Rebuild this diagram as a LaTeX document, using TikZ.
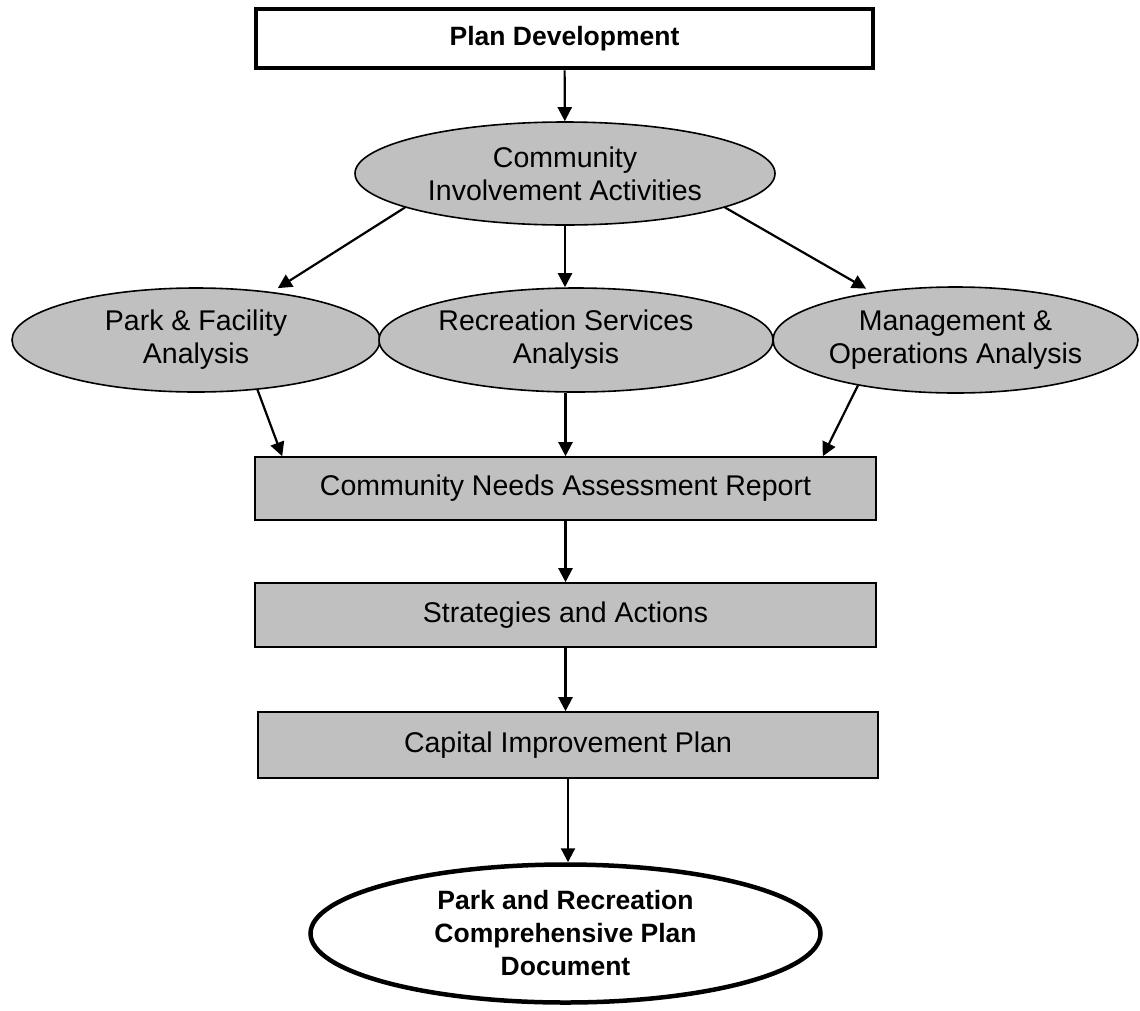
\documentclass[tikz,border=0pt]{standalone}
\usepackage{fontspec}
\setmainfont{Liberation Sans}
\usepackage{tikz}
\usetikzlibrary{fit}
\usetikzlibrary{arrows.meta}
\usetikzlibrary{shapes.geometric}
\definecolor{boxgray}{HTML}{C0C0C0}
\tikzset{
	grayell/.style={draw, ellipse, fill=boxgray, line width=1.6pt, inner sep=0pt, align=center},
	graybox/.style={draw, fill=boxgray, line width=1.6pt, inner sep=0pt},
	flow/.style={-{Triangle[length=14pt,width=14pt]}, line width=2.2pt},
	boldtext/.style={font=\bfseries\fontsize{26.5}{33}\selectfont}
}

\begin{document}
\begin{tikzpicture}[x=1pt, y=-1pt, font=\fontsize{28.5}{33}\selectfont]
	\useasboundingbox (0,0) rectangle (1140,1010);

	\node[draw, line width=4.5pt, fit={(256,9) (873,68)}, inner sep=0pt, label={[boldtext]center:Plan Development}] (plan) {};	% top box

	\node[grayell, minimum width=420pt, minimum height=103pt] (comm) at (565,173.5) {Community\\Involvement Activities};	% ellipses
	\node[grayell, minimum width=368pt, minimum height=104pt] (park) at (196,340) {Park \& Facility\\Analysis};
	\node[grayell, minimum width=394pt, minimum height=104pt, label={[align=center, xshift=-10pt]center:Recreation Services\\Analysis}] (rec) at (576,340) {};
	\node[grayell, minimum width=365pt, minimum height=106pt] (mgmt) at (955.5,340) {Management \&\\Operations Analysis};

	\node[graybox, fit={(255,457) (876,520)}, label=center:Community Needs Assessment Report] (report) {};	% gray boxes
	\node[graybox, fit={(255,583) (876,647)}, label=center:Strategies and Actions] (strat) {};
	\node[graybox, fit={(258,712) (878,778)}, label=center:Capital Improvement Plan] (cip) {};

	\node[draw, ellipse, line width=4.5pt, minimum width=510pt, minimum height=138pt, inner sep=0pt, align=center, boldtext] (doc) at (565.5,933.5) {Park and Recreation\\Comprehensive Plan\\Document};	% final document

	\draw[flow] (plan) -- (comm);	% arrows
	\draw[flow, shorten >=7pt] (comm.192) -- (park);
	\draw[flow] (comm.south) -- (comm.south |- rec.north);
	\draw[flow, shorten >=7pt] (comm.348) -- (mgmt);

	\draw[flow] (park.-39) -- ([xshift=28pt]report.north west);
	\draw[flow] (rec.south -| report.north) -- (report.north);
	\draw[flow] (mgmt.-155) -- ([xshift=-54pt]report.north east);

	\draw[flow] (report) -- (strat);
	\draw[flow] (strat.south) -- (strat.south |- cip.north);
	\draw[flow] (cip.south) -- (cip.south |- doc.north);
\end{tikzpicture}
\end{document}
